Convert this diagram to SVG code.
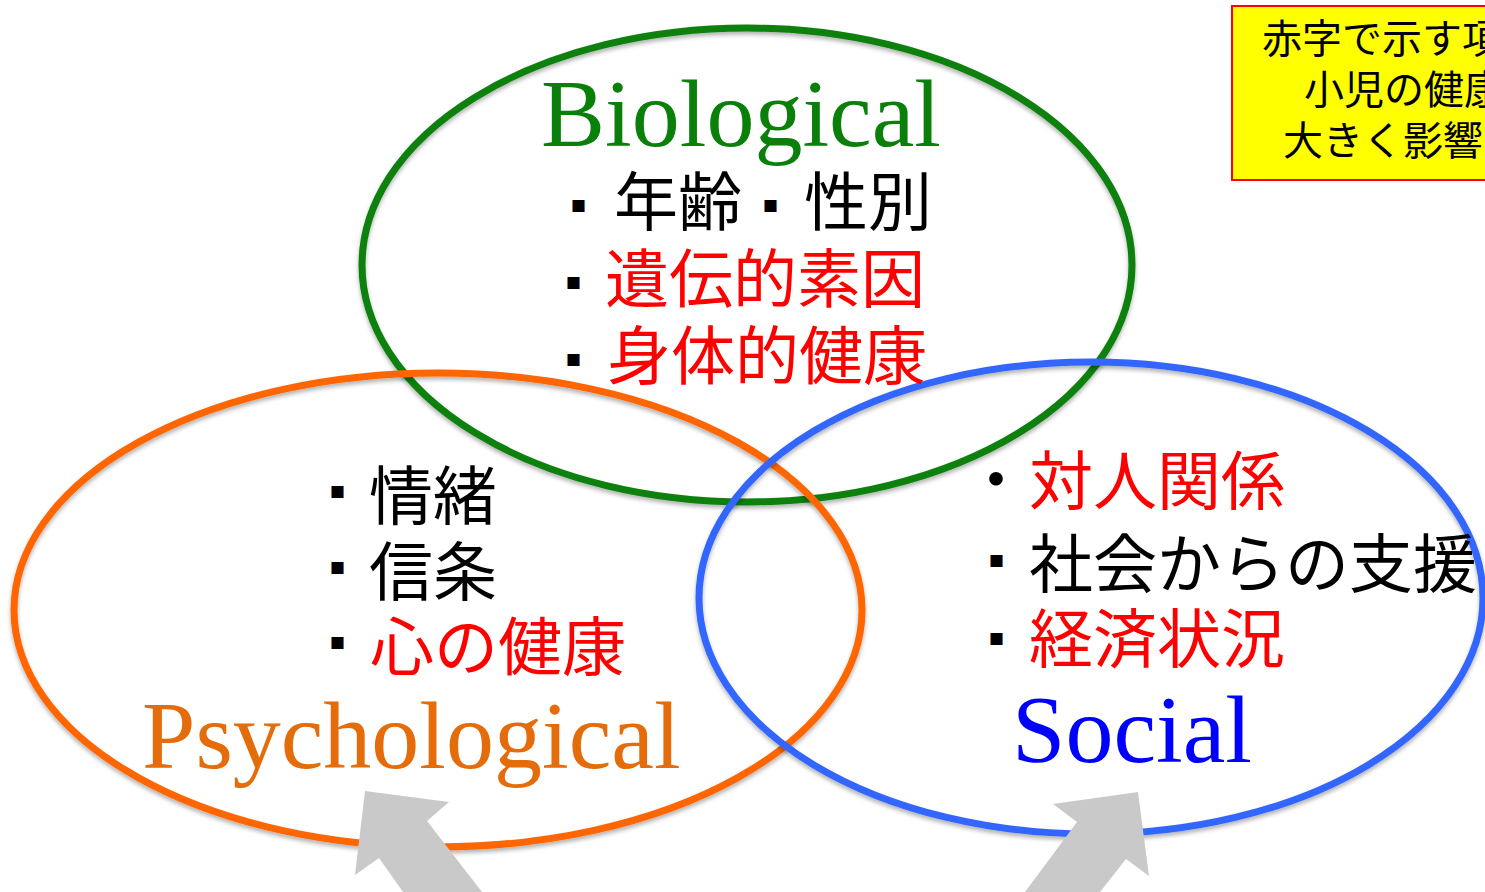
<svg xmlns="http://www.w3.org/2000/svg" width="1485" height="892" viewBox="0 0 1485 892">
<defs>
<filter id="sh" x="-10%" y="-10%" width="120%" height="130%">
<feDropShadow dx="0" dy="3" stdDeviation="2" flood-color="#000" flood-opacity="0.3"/>
</filter>
<style>
.ring{fill:none;stroke-width:7;filter:url(#sh)}
.en{font-family:"Liberation Serif","Times New Roman",serif;font-size:96px}
.jp{font-family:"Noto Sans CJK JP","Noto Sans",sans-serif;font-size:64px;fill:#000}
.red{fill:#ff0000}
.bul{font-family:"Noto Sans CJK JP",sans-serif;font-size:15px;fill:#000}
.note{font-family:"Noto Sans CJK JP",sans-serif;font-size:40px;fill:#000}
.arrow{fill:#c9c9c9}
</style>
</defs>
<rect width="1485" height="892" fill="#fff"/>

<g id="biological">
<ellipse class="ring" cx="747" cy="265" rx="385" ry="237" stroke="#0a800a"/>
</g>
<g id="psychological">
<ellipse class="ring" cx="438" cy="610" rx="424" ry="237" stroke="#ff6600"/>
</g>
<g id="social">
<ellipse class="ring" cx="1091" cy="598" rx="392" ry="236" stroke="#3366ff"/>
</g>

<g id="biological-text">
<text class="en" x="541" y="146" fill="#0a800a">Biological</text>
<text class="bul" x="571" y="212">■</text>
<text class="jp" x="614" y="225">年齢</text>
<text class="bul" x="763" y="212">■</text>
<text class="jp" x="804" y="225">性別</text>
<text class="bul" x="566" y="289">■</text>
<text class="jp red" x="605" y="302">遺伝的素因</text>
<text class="bul" x="566" y="366">■</text>
<text class="jp red" x="607" y="379">身体的健康</text>
</g>

<g id="psychological-text">
<text class="bul" x="330" y="498">■</text>
<text class="jp" x="369" y="519">情緒</text>
<text class="bul" x="330" y="574">■</text>
<text class="jp" x="369" y="595">信条</text>
<text class="bul" x="330" y="649">■</text>
<text class="jp red" x="370" y="670">心の健康</text>
<text class="en" x="142" y="768" fill="#e46c0a">Psychological</text>
</g>

<g id="social-text">
<text class="jp" x="964" y="503">・</text>
<text class="jp red" x="1029" y="504">対人関係</text>
<text class="bul" x="989" y="567">■</text>
<text class="jp" x="1029" y="587">社会からの支援</text>
<text class="bul" x="989" y="645">■</text>
<text class="jp red" x="1029" y="662">経済状況</text>
<text class="en" x="1012" y="762" fill="#0000ff">Social</text>
</g>

<g id="note">
<rect x="1232" y="6" width="270" height="174" fill="#ffff00" stroke="#ff0000" stroke-width="2"/>
<text class="note" x="1262" y="53">赤字で示す項</text>
<text class="note" x="1304" y="104">小児の健康</text>
<text class="note" x="1283" y="155">大きく影響</text>
</g>

<g id="connectors">
<polygon class="arrow" points="365,791 449,802 427,821 482,892 403,892 379,858 355,875"/>
<polygon class="arrow" points="1138,792 1053,804 1077,822 1025,892 1100,892 1126,859 1149,876"/>
</g>
</svg>
